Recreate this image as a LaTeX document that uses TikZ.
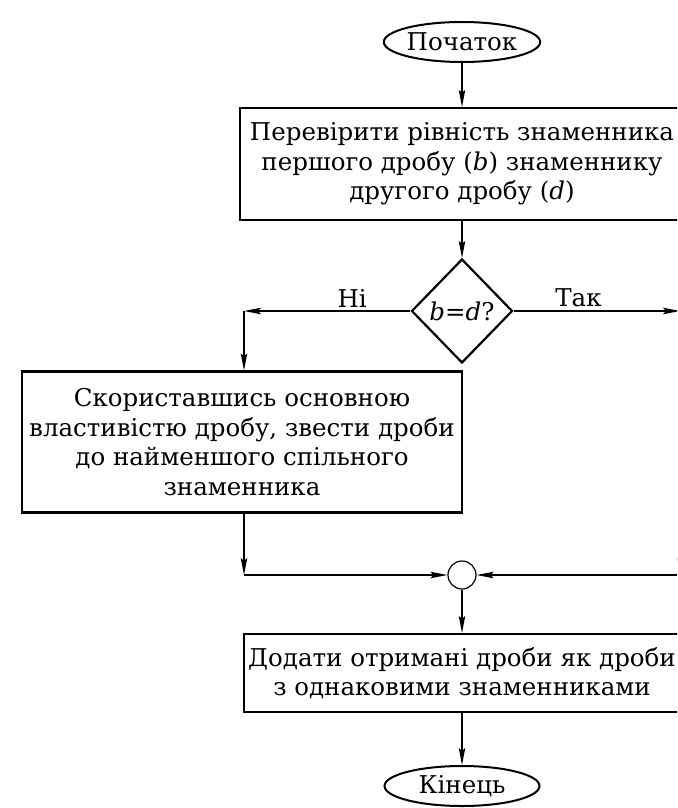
\documentclass[tikz,border=0pt]{standalone}
\usepackage{fontspec}
\setmainfont{DejaVu Serif}
\usetikzlibrary{shapes.geometric,arrows.meta}

\begin{document}
\begin{tikzpicture}[x=1pt, y=1pt, auto, >={Stealth[length=17pt,width=6.5pt,inset=3pt]},
  every node/.style={font=\fontsize{24.5}{29.5}\selectfont},
  term/.style={draw, ellipse, line width=2pt, minimum width=155pt, minimum height=40pt, inner sep=0pt},
  block/.style={draw, rectangle, line width=2.2pt, align=center, inner sep=0pt},
  decision/.style={draw, diamond, line width=2.2pt, minimum width=101pt, minimum height=104pt, inner sep=0pt},
  joint/.style={draw, circle, line width=1.2pt, minimum size=28pt, inner sep=0pt},
  flow/.style={->, line width=1.3pt}]
  \useasboundingbox (-462,42) rectangle (215,-766);
  \clip (-462,42) rectangle (215,-766);
  \node[term] (start) {Початок};
  \node[block, minimum width=444pt, minimum height=112pt, node distance=122pt, below of=start] (compare) {Перевірити рівність знаменника\\ першого дробу (\textit{b}) знаменнику\\ другого дробу (\textit{d})};
  \node[decision, node distance=147pt, below of=compare] (cond) {\textit{b}=\textit{d}?};
  \node[block, minimum width=440pt, minimum height=141pt, node distance=131pt, below of=cond, xshift=-220pt] (common) {Скориставшись основною\\ властивістю дробу, звести дроби\\ до найменшого спільного\\ знаменника};
  \node[joint, node distance=133pt, below of=common, xshift=220pt] (join) {};
  \node[block, minimum width=436pt, minimum height=78pt, node distance=98pt, below of=join] (add) {Додати отримані дроби як дроби\\ з однаковими знаменниками};
  \node[term, node distance=113pt, below of=add] (finish) {Кінець};
  \coordinate (noturn) at (-218,0 |- cond);
  \coordinate (nomerge) at (-218,0 |- join);
  \coordinate (yesturn) at (218,0 |- cond);
  \coordinate (yesmerge) at (218,0 |- join);
  \draw[flow] (start) -- (compare);
  \draw[flow] (compare) -- (cond);
  \draw[flow] (cond.west) -- node[pos=0.35, above] {Ні} (noturn);
  \draw[flow] (noturn) -- (noturn |- common.north);
  \draw[flow] (noturn |- common.south) -- (nomerge);
  \draw[flow] (nomerge) -- (join.west);
  \draw[flow] (cond.east) -- node[pos=0.39, above] {Так} (yesturn);
  \draw[flow] (yesturn) -- (yesmerge);
  \draw[flow] (yesmerge) -- (join.east);
  \draw[flow] (join) -- (add);
  \draw[flow] (add) -- (finish);
\end{tikzpicture}
\end{document}
